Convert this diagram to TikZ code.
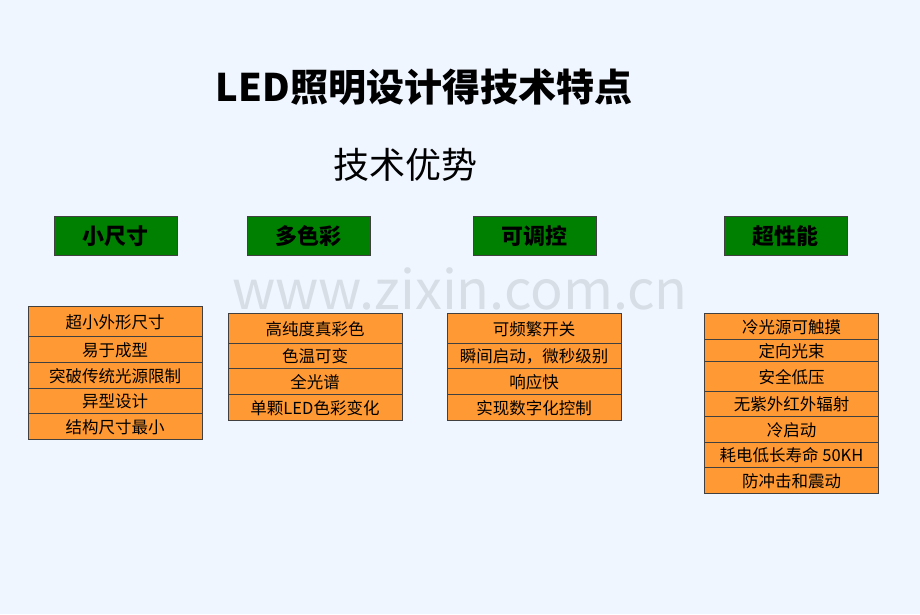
\documentclass[tikz,border=0pt]{standalone}
\usepackage{fontspec}
\setmainfont{Noto Sans CJK SC}
\definecolor{bgblue}{RGB}{240,246,255}
\definecolor{headgreen}{RGB}{0,128,0}
\definecolor{cellorange}{RGB}{255,153,51}
\definecolor{markgray}{RGB}{216,222,230}

\begin{document}
\begin{tikzpicture}[x=1pt, y=-1pt,
    head/.style = {draw = black!75, fill = headgreen, minimum width = 123pt, minimum height = 39pt,
                   inner sep = 0pt, text height = 18pt, text depth = 1pt,
                   font = \fontsize{22}{22}\selectfont\bfseries},
    cell/.style = {draw = black!75, fill = cellorange, minimum width = 174pt,
                   inner sep = 0pt, text height = 15pt, text depth = 1pt,
                   font = \fontsize{16.5}{16.5}\selectfont}]

    \fill [bgblue] (0, 0) rectangle (920, 614);
    \useasboundingbox (0, 0) rectangle (920, 614);

    \node [text = markgray, font = \fontsize{54}{54}\selectfont] (mark) at (460, 289) {www.zixin.com.cn};

    \node [font = \fontsize{38}{38}\selectfont\bfseries] (title) at (424, 87) {LED照明设计得技术特点};
    \node [font = \fontsize{36}{36}\selectfont] (subtitle) at (405, 165) {技术优势};

    \node [head] (h1) at (115.5, 235.5) {小尺寸};
    \node [head] (h2) at (308.5, 235.5) {多色彩};
    \node [head] (h3) at (534.5, 235.5) {可调控};
    \node [head] (h4) at (785.5, 235.5) {超性能};

    % columns of features
    \foreach \n/\t/\a/\b in {1/超小外形尺寸/306/336.5, 2/易于成型/336.5/362, 3/突破传统光源限制/362/388,
                             4/异型设计/388/413, 5/结构尺寸最小/413/439} {
        \pgfmathsetmacro\m{(\a+\b)/2}
        \pgfmathsetmacro\h{\b-\a}
        \node [cell, minimum height = \h pt] (a\n) at (115, \m) {\t};
    }

    \foreach \n/\t/\a/\b in {1/高纯度真彩色/313/343, 2/色温可变/343/368, 3/全光谱/368/394,
                             4/单颗LED色彩变化/394/420} {
        \pgfmathsetmacro\m{(\a+\b)/2}
        \pgfmathsetmacro\h{\b-\a}
        \node [cell, minimum height = \h pt] (b\n) at (315, \m) {\t};
    }

    \foreach \n/\t/\a/\b in {1/可频繁开关/313/343, 2/瞬间启动，微秒级别/343/368, 3/响应快/368/394,
                             4/实现数字化控制/394/420} {
        \pgfmathsetmacro\m{(\a+\b)/2}
        \pgfmathsetmacro\h{\b-\a}
        \node [cell, minimum height = \h pt] (c\n) at (534, \m) {\t};
    }

    \foreach \n/\t/\a/\b in {1/冷光源可触摸/313/339, 2/定向光束/339/361, 3/安全低压/361/391,
                             4/无紫外红外辐射/391/416, 5/冷启动/416/442, 6/耗电低长寿命 50KH/442/467,
                             7/防冲击和震动/467/493} {
        \pgfmathsetmacro\m{(\a+\b)/2}
        \pgfmathsetmacro\h{\b-\a}
        \node [cell, minimum height = \h pt] (d\n) at (791.5, \m) {\t};
    }

\end{tikzpicture}
\end{document}
